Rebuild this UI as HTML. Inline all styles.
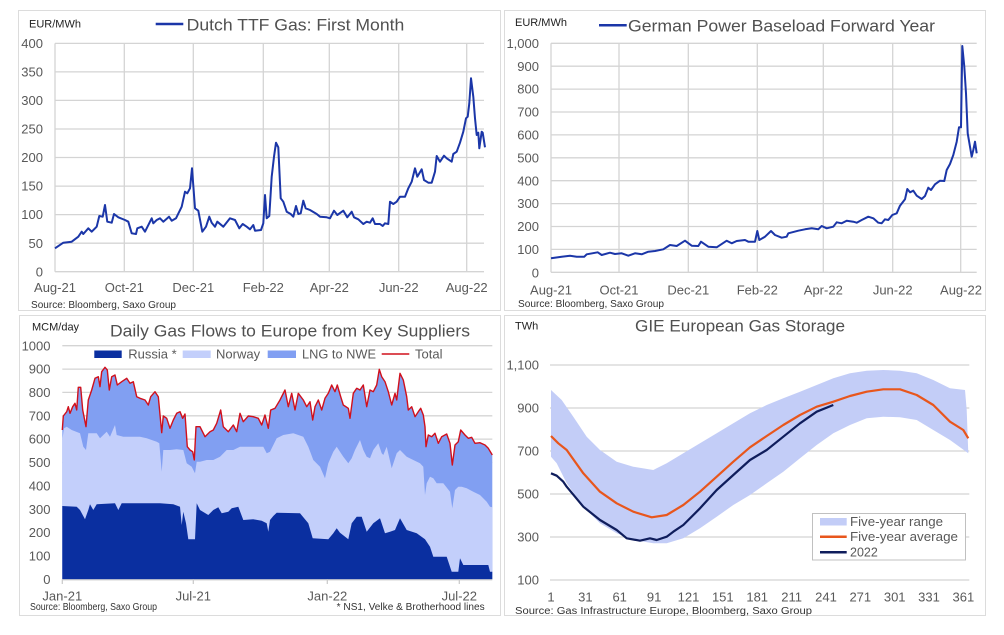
<!DOCTYPE html>
<html><head><meta charset="utf-8"><style>
html,body{margin:0;padding:0;background:#fff;}
svg{display:block;}
text{font-family:"Liberation Sans",sans-serif;}
.tk{font-size:13px;fill:#595959;}
.un{font-size:11px;fill:#222;}
.src{font-size:10px;fill:#333;}
.ttl{font-size:17px;fill:#505050;}
.lg{font-size:13px;fill:#595959;}
.g{stroke:#d4d4d4;stroke-width:1.3;fill:none;}
</style></head><body>
<svg width="1004" height="635" viewBox="0 0 1004 635" xmlns="http://www.w3.org/2000/svg">
<rect width="1004" height="635" fill="#fff"/>
<!-- panel frames -->
<rect x="18.5" y="10.5" width="482" height="300" fill="#fff" stroke="#dcdcdc"/>
<rect x="504.5" y="10.5" width="481" height="300" fill="#fff" stroke="#dcdcdc"/>
<rect x="19.5" y="315.5" width="481" height="300" fill="#fff" stroke="#dcdcdc"/>
<rect x="504.5" y="315.5" width="481" height="300" fill="#fff" stroke="#dcdcdc"/>

<!-- ============ PANEL 1 ============ -->
<g class="g">
<line x1="55" y1="43.4" x2="484" y2="43.4"/><line x1="55" y1="71.9" x2="484" y2="71.9"/>
<line x1="55" y1="100.4" x2="484" y2="100.4"/><line x1="55" y1="129" x2="484" y2="129"/>
<line x1="55" y1="157.5" x2="484" y2="157.5"/><line x1="55" y1="186.1" x2="484" y2="186.1"/>
<line x1="55" y1="214.6" x2="484" y2="214.6"/><line x1="55" y1="243.2" x2="484" y2="243.2"/>
<line x1="55" y1="271.7" x2="484" y2="271.7"/>
<line x1="55" y1="43.4" x2="55" y2="271.7"/><line x1="124.3" y1="43.4" x2="124.3" y2="271.7"/>
<line x1="193.3" y1="43.4" x2="193.3" y2="271.7"/><line x1="263.3" y1="43.4" x2="263.3" y2="271.7"/>
<line x1="329.3" y1="43.4" x2="329.3" y2="271.7"/><line x1="398.7" y1="43.4" x2="398.7" y2="271.7"/>
<line x1="466.7" y1="43.4" x2="466.7" y2="271.7"/>
</g>
<g class="tk" text-anchor="end">
<text x="43" y="48">400</text><text x="43" y="76.5">350</text><text x="43" y="105">300</text>
<text x="43" y="133.6">250</text><text x="43" y="162.1">200</text><text x="43" y="190.7">150</text>
<text x="43" y="219.2">100</text><text x="43" y="247.8">50</text><text x="43" y="276.3">0</text>
</g>
<g class="tk" text-anchor="middle">
<text x="55" y="292">Aug-21</text><text x="124.3" y="292">Oct-21</text><text x="193.3" y="292">Dec-21</text>
<text x="263.3" y="292">Feb-22</text><text x="329.3" y="292">Apr-22</text><text x="398.7" y="292">Jun-22</text>
<text x="466.7" y="292">Aug-22</text>
</g>
<polyline fill="none" stroke="#1b36a8" stroke-width="2" stroke-linejoin="round" points="55,248.3 63.3,242.7 71.7,241.7 78.3,236.7 81.7,231.7 83.3,234 88.3,228.3 91.7,231.7 96.7,226.7 99.3,216 102.7,216.7 105,205 107.3,221.7 111.7,222.7 114,214 118.3,217.3 125,220 128.3,221.7 131.7,233.3 136,234 137.3,228.3 141.7,226.7 145,231.7 151.7,218.3 153.3,223.3 156.7,220 160,218.3 163.3,221.7 169,216.7 171.7,220.7 176,218.3 181.7,206.7 185,191.7 187.3,193.3 190,188.3 192,168.3 195,208.3 198.3,210.7 202.3,231.7 206,226.7 209.3,216.7 211.7,222.7 215,226.7 217.3,221.7 223.3,226.7 230,218.3 235,220 239.3,228.3 242.7,224 246.7,226.7 250,229.3 253.3,225 255,230.7 261,230 263.3,223.3 265,195 266.7,218.3 269.3,216 271.7,176.7 274,156.7 276,142.7 278.3,147.3 280.7,198.3 283.3,201.7 286.7,211.7 290.7,214 293.3,216.7 296,206 298.3,214 300.7,213.3 303.3,200.7 305.7,208.3 310,210 316.7,214 320,216.7 326.7,217.3 330,218.3 334,210.7 337.3,215 343.3,210.7 347.3,217.3 351.7,211.7 354,217.3 358.3,219.3 363.3,224 366.7,221.7 370,222.7 372.7,218.3 375,224 380,224 382.7,226 385,223.3 388.3,224 390,201.7 393.3,204 396.7,201.7 400,196.7 405,196.7 408.3,188.3 411.7,181.7 415,168.3 417.3,176.7 421.7,169.3 424,180 428.3,182.7 431.7,182.7 435,171.7 436.7,156 440,161.7 444,155.7 446.7,158.3 451.7,161.7 453.3,154 456.7,151.7 460,142.7 463.3,131.7 466,118.3 467.7,116.7 469.3,103.3 471,78.3 473.3,96.7 475,118.3 476.7,135 478.3,132.7 479.3,148.3 481.7,131.7 482.7,132.7 485,147.3"/>
<text class="un" x="29" y="27.3">EUR/MWh</text>
<line x1="155.7" y1="24" x2="183.3" y2="24" stroke="#1b36a8" stroke-width="2.5"/>
<text class="ttl" x="186.7" y="30.5" textLength="217.6" lengthAdjust="spacingAndGlyphs">Dutch TTF Gas: First Month</text>
<text class="src" x="31" y="307.8" textLength="145" lengthAdjust="spacingAndGlyphs">Source: Bloomberg, Saxo Group</text>

<!-- ============ PANEL 2 ============ -->
<g class="g">
<line x1="551" y1="43.3" x2="976.7" y2="43.3"/><line x1="551" y1="66.2" x2="976.7" y2="66.2"/>
<line x1="551" y1="89.1" x2="976.7" y2="89.1"/><line x1="551" y1="112" x2="976.7" y2="112"/>
<line x1="551" y1="134.9" x2="976.7" y2="134.9"/><line x1="551" y1="157.8" x2="976.7" y2="157.8"/>
<line x1="551" y1="180.7" x2="976.7" y2="180.7"/><line x1="551" y1="203.6" x2="976.7" y2="203.6"/>
<line x1="551" y1="226.5" x2="976.7" y2="226.5"/><line x1="551" y1="249.4" x2="976.7" y2="249.4"/>
<line x1="551" y1="272.3" x2="976.7" y2="272.3"/>
<line x1="551" y1="43.3" x2="551" y2="272.3"/><line x1="619" y1="43.3" x2="619" y2="272.3"/>
<line x1="688.3" y1="43.3" x2="688.3" y2="272.3"/><line x1="757.3" y1="43.3" x2="757.3" y2="272.3"/>
<line x1="823.3" y1="43.3" x2="823.3" y2="272.3"/><line x1="892.7" y1="43.3" x2="892.7" y2="272.3"/>
<line x1="960.7" y1="43.3" x2="960.7" y2="272.3"/>
</g>
<g class="tk" text-anchor="end">
<text x="539" y="47.9">1,000</text><text x="539" y="70.8">900</text><text x="539" y="93.7">800</text>
<text x="539" y="116.6">700</text><text x="539" y="139.5">600</text><text x="539" y="162.4">500</text>
<text x="539" y="185.3">400</text><text x="539" y="208.2">300</text><text x="539" y="231.1">200</text>
<text x="539" y="254">100</text><text x="539" y="277.5">0</text>
</g>
<g class="tk" text-anchor="middle">
<text x="551" y="294.7">Aug-21</text><text x="619" y="294.7">Oct-21</text><text x="688.3" y="294.7">Dec-21</text>
<text x="757.3" y="294.7">Feb-22</text><text x="823.3" y="294.7">Apr-22</text><text x="892.7" y="294.7">Jun-22</text>
<text x="961" y="294.7">Aug-22</text>
</g>
<polyline fill="none" stroke="#1b36a8" stroke-width="2" stroke-linejoin="round" points="551,258.3 561.7,256.7 570,255.7 576.7,256.7 584.3,256.7 586.7,254.3 597.7,252.3 601.7,255 610,252.7 615,254 621.7,253.3 628.3,255.7 635,253.3 641.7,254.3 648.3,251.7 655,251 663.3,249.3 670,245 676.7,246 685,240.7 691.7,245.7 698.3,246 701,241.7 708.3,246.7 716.7,247.3 726.7,240.7 731.7,243.3 736.7,241 745,240 748.3,241.7 755,241.7 757.3,231 759.3,240 765,236.7 771,231 775,235 781.7,237.7 786.7,236.7 788.3,233.3 798.3,230.7 805,229.3 811.7,228.3 818.3,229.3 821.7,226 826.7,228.3 833.3,226.7 836.7,222.3 841.7,223.3 846.7,220.7 853.3,221.7 856.7,222.7 861.7,220 868.3,216.7 873.3,218.3 878.3,222.7 881.7,223.3 885,219.3 888.3,220 892.3,215 896.7,213.3 900,205.7 905,199.3 907.3,189 910,192.3 913.3,190.7 916.7,195.7 921.7,199 925,196 928.3,187.7 931,190 935,184.3 940,180.7 944.3,181 946.7,170 950,164 953.3,155 956.7,141.7 959,127.3 961,127.3 962.3,46 964.3,66.7 966,93.3 967.7,133.3 970,146.7 971.7,156.7 973.3,150 975,141.7 976.7,153.3"/>
<text class="un" x="515" y="26">EUR/MWh</text>
<line x1="599" y1="25.3" x2="626.7" y2="25.3" stroke="#1b36a8" stroke-width="2.5"/>
<text class="ttl" x="628" y="31.5" textLength="307" lengthAdjust="spacingAndGlyphs">German Power Baseload Forward Year</text>
<text class="src" x="518" y="307.2" textLength="146" lengthAdjust="spacingAndGlyphs">Source: Bloomberg, Saxo Group</text>

<!-- ============ PANEL 3 ============ -->
<g class="g">
<line x1="62.3" y1="345.7" x2="492.3" y2="345.7"/><line x1="62.3" y1="369.1" x2="492.3" y2="369.1"/>
<line x1="62.3" y1="392.4" x2="492.3" y2="392.4"/><line x1="62.3" y1="415.8" x2="492.3" y2="415.8"/>
<line x1="62.3" y1="439.1" x2="492.3" y2="439.1"/><line x1="62.3" y1="462.5" x2="492.3" y2="462.5"/>
</g>
<path fill="#819ff2" d="M62.3,579.3 L62.3,430 63.3,416 66.7,411.7 68.3,406.7 70,413.3 72.7,406.7 75,403.3 76.7,410 78.3,387.3 80.7,387.3 82.7,410 86,426.7 88.3,400 91.7,390 95,378.3 98.3,376.7 100,386.7 101.7,371.7 105,367.3 107.3,370 109.3,390 111.7,376.7 115,375 117.3,385 121.7,381.7 126.7,378.3 130,383.3 133.3,381.7 136.7,396.7 140,398.3 145,400 148.3,405 150.7,396.7 155,391.7 158.3,396.7 161.7,432.7 163.3,416 166.7,418.3 170,428.3 173.3,420 176.7,413.3 180,411.7 182.7,418.3 185,414 187.3,446.7 190,450 192.7,451.7 194.3,460 196,426.7 200,426.7 205,436.7 210,431.7 213.3,430 216.7,423.3 220.7,410 223.3,426.7 228.3,431.7 233.3,425 236.7,431.7 240,413.3 243.3,421.7 248.3,416 253.3,416.7 258.3,418.3 261.7,425 265,415 268.3,428.3 270.7,410 275,408.3 280,400 285,390 288.3,406.7 291.7,393.3 295,410 298.3,393.3 303.3,400 306.7,406.7 310,401.7 312.7,420 315,406.7 318.3,400 321.7,410 325,398.3 328.3,393.3 331.7,385 335,391.7 337.3,385 340.7,396.7 343.3,405 348.3,408.3 350,418.3 353.3,393.3 356.7,388.3 360,390 363.3,385 366.7,406.7 370,390 373.3,391.7 376.7,385 379.3,369.3 381.7,376.7 385,381.7 388.3,391.7 391.7,405 395,393.3 396.7,400 400,373.3 403.3,380 406.7,396.7 408.3,410 411.7,406.7 415,416.7 418.3,411.7 420.7,408.3 423.3,415 425,426.7 426,446.7 428.3,435 431.7,436.7 435,433.3 438.3,443.3 441.7,436.7 446.7,434 450,443.3 452.3,465 455,445 458.3,441.7 460.7,430 465,435 468.3,438.3 471.7,437.3 475,443.3 480,442.7 485,445 488.3,448.3 492.3,455 L492.3,579.3 Z"/>
<path fill="#c3cffb" d="M62.3,579.3 L62.3,440 64,428.3 66.7,426.7 71.7,430 80,433.3 83.3,446.7 86,450 88.3,433.3 96.7,433.3 100,438.3 103.3,435 106.7,431.7 110,436.7 115,425 116.7,435 123.3,436.7 131.7,436.7 140,436.7 146.7,438.3 156.7,441.7 159.3,443.3 161.7,471.7 163.3,450 170,450 176.7,449.3 183.3,450 186.7,463.3 191.7,466.7 195,473.3 196.7,461.7 200,461.7 206.7,460 213.3,460 220,456.7 226.7,450 233.3,450 240,446.7 246.7,446.7 253.3,446.7 263.3,446.7 266.7,453.3 270,451.7 276.7,438.3 283.3,435 293.3,433.3 303.3,436.7 308.3,446.7 313.3,460 320,466.7 325,478.3 328.3,463.3 333.3,451.7 336.7,446.7 343.3,456.7 348.3,463.3 351.7,458.3 355,450 360,440 363.3,450 366.7,456.7 370,458.3 373.3,450 378.3,443.3 381.7,453.3 383.3,455 386.7,446.7 391.7,468.3 396.7,453.3 400,450 406.7,456.7 413.3,460 420,463.3 423.3,466.7 425,495 426.7,483.3 430,476.7 433.3,478.3 436.7,483.3 443.3,483.3 450,491.7 452.3,508.3 455,490 458.3,486.7 461.7,486.7 466.7,488.3 473.3,491.7 480,495 486.7,501.7 490,506.7 492.3,507.3 L492.3,579.3 Z"/>
<path fill="#0a2fa0" d="M62.3,579.3 L62.3,506 76.7,506.7 80,510 85,519.3 88.3,510 90,504.3 93.3,510 96.7,504.3 115,503.3 118.3,510 121.7,503.3 160,503.3 173.3,504.3 180,506.7 181.7,525 183.3,511.7 186,523.3 188.3,539.3 195,539.3 196.7,503.3 200,510 208.3,515 213.3,510 218.3,507.3 221.7,513.3 228.3,511.7 231.7,508.3 238.3,506.7 243.3,520 253.3,519.3 261.7,520.7 266.7,523.3 268.3,531.7 270,520 273.3,516 276.7,512.7 300,513.3 308.3,523.3 312.7,538.3 328.3,539.3 333.3,533.3 336.7,528.3 340,532.7 348.3,539.3 351.7,523.3 356.7,516.7 361.7,516.7 366.7,531.7 373.3,523.3 380,518.3 385,533.3 390,531.7 395,530 400,518.3 406.7,530 416.7,533.3 425,539.3 430,546.7 433.3,556.7 446.7,556.7 451.7,571.7 458.3,571.7 460,558.3 463.3,565 488.3,565 490,571.7 492.3,571.7 L492.3,579.3 Z"/>
<polyline fill="none" stroke="#d0101c" stroke-width="1.4" stroke-linejoin="round" points="62.3,430 63.3,416 66.7,411.7 68.3,406.7 70,413.3 72.7,406.7 75,403.3 76.7,410 78.3,387.3 80.7,387.3 82.7,410 86,426.7 88.3,400 91.7,390 95,378.3 98.3,376.7 100,386.7 101.7,371.7 105,367.3 107.3,370 109.3,390 111.7,376.7 115,375 117.3,385 121.7,381.7 126.7,378.3 130,383.3 133.3,381.7 136.7,396.7 140,398.3 145,400 148.3,405 150.7,396.7 155,391.7 158.3,396.7 161.7,432.7 163.3,416 166.7,418.3 170,428.3 173.3,420 176.7,413.3 180,411.7 182.7,418.3 185,414 187.3,446.7 190,450 192.7,451.7 194.3,460 196,426.7 200,426.7 205,436.7 210,431.7 213.3,430 216.7,423.3 220.7,410 223.3,426.7 228.3,431.7 233.3,425 236.7,431.7 240,413.3 243.3,421.7 248.3,416 253.3,416.7 258.3,418.3 261.7,425 265,415 268.3,428.3 270.7,410 275,408.3 280,400 285,390 288.3,406.7 291.7,393.3 295,410 298.3,393.3 303.3,400 306.7,406.7 310,401.7 312.7,420 315,406.7 318.3,400 321.7,410 325,398.3 328.3,393.3 331.7,385 335,391.7 337.3,385 340.7,396.7 343.3,405 348.3,408.3 350,418.3 353.3,393.3 356.7,388.3 360,390 363.3,385 366.7,406.7 370,390 373.3,391.7 376.7,385 379.3,369.3 381.7,376.7 385,381.7 388.3,391.7 391.7,405 395,393.3 396.7,400 400,373.3 403.3,380 406.7,396.7 408.3,410 411.7,406.7 415,416.7 418.3,411.7 420.7,408.3 423.3,415 425,426.7 426,446.7 428.3,435 431.7,436.7 435,433.3 438.3,443.3 441.7,436.7 446.7,434 450,443.3 452.3,465 455,445 458.3,441.7 460.7,430 465,435 468.3,438.3 471.7,437.3 475,443.3 480,442.7 485,445 488.3,448.3 492.3,455"/>
<g stroke="#c8c8c8" stroke-width="1.2">
<line x1="62.3" y1="579.8" x2="492.3" y2="579.8"/>
<line x1="62.3" y1="579.3" x2="62.3" y2="584"/><line x1="193.3" y1="579.3" x2="193.3" y2="584"/>
<line x1="327.3" y1="579.3" x2="327.3" y2="584"/><line x1="459.3" y1="579.3" x2="459.3" y2="584"/>
</g>
<g class="tk" text-anchor="end">
<text x="50.5" y="350.3">1000</text><text x="50.5" y="373.7">900</text><text x="50.5" y="397">800</text>
<text x="50.5" y="420.4">700</text><text x="50.5" y="443.7">600</text><text x="50.5" y="467.1">500</text>
<text x="50.5" y="490.5">400</text><text x="50.5" y="513.8">300</text><text x="50.5" y="537.2">200</text>
<text x="50.5" y="560.5">100</text><text x="50.5" y="583.9">0</text>
</g>
<g class="tk" text-anchor="middle">
<text x="62.3" y="600.6">Jan-21</text><text x="193.3" y="600.6">Jul-21</text>
<text x="327.3" y="600.6">Jan-22</text><text x="459.3" y="600.6">Jul-22</text>
</g>
<text class="un" x="32" y="330.7">MCM/day</text>
<text class="ttl" x="110" y="336.5" textLength="360" lengthAdjust="spacingAndGlyphs">Daily Gas Flows to Europe from Key Suppliers</text>
<rect x="94.3" y="350.5" width="27.4" height="7.5" fill="#0a2fa0"/>
<text class="lg" x="128.3" y="358.6">Russia *</text>
<rect x="182.7" y="350.5" width="28" height="7.5" fill="#c3cffb"/>
<text class="lg" x="216" y="358.6">Norway</text>
<rect x="267.7" y="350.5" width="28.3" height="7.5" fill="#819ff2"/>
<text class="lg" x="302" y="358.6" textLength="74" lengthAdjust="spacingAndGlyphs">LNG to NWE</text>
<line x1="381.7" y1="354" x2="409.3" y2="354" stroke="#d0101c" stroke-width="1.5"/>
<text class="lg" x="415" y="358.6">Total</text>
<text class="src" x="30" y="610.2" textLength="127" lengthAdjust="spacingAndGlyphs">Source:  Bloomberg,  Saxo Group</text>
<text class="src" x="336.7" y="610.2" textLength="148" lengthAdjust="spacingAndGlyphs">* NS1, Velke &amp; Brotherhood  lines</text>

<!-- ============ PANEL 4 ============ -->
<g class="g">
<line x1="550" y1="365" x2="969.3" y2="365"/><line x1="550" y1="408" x2="969.3" y2="408"/>
<line x1="550" y1="451" x2="969.3" y2="451"/><line x1="550" y1="494" x2="969.3" y2="494"/>
<line x1="550" y1="537" x2="969.3" y2="537"/><line x1="550" y1="580" x2="969.3" y2="580"/>
</g>
<path fill="#c3cdf7" d="M551,390 L561.7,400 573.3,416.7 586.7,436.7 600,450 616.7,461.7 633.3,466.7 653.3,470 656.7,468.3 666.7,463.3 683.3,453.3 700,443.3 716.7,433.3 733.3,423.3 750,413.3 766.7,405 783.3,398.3 800,391.7 816.7,385 833.3,378.3 850,373.3 866.7,370.7 883.3,370 900,370.7 916.7,373.3 933.3,380 950,388.3 965,390 966.7,410 968.3,453.3 L950,440 933.3,430 916.7,420 900,417.3 883.3,416.7 866.7,418.3 850,425 833.3,433.3 816.7,445 800,458.3 783.3,471.7 766.7,483.3 750,495 733.3,505 716.7,516.7 700,528.3 683.3,538.3 666.7,543.3 653.3,543.3 633.3,540 616.7,533.3 600,523.3 583.3,506.7 566.7,483.3 556.7,463.3 551,456.7 Z"/>
<polyline fill="none" stroke="#e8561c" stroke-width="2.2" stroke-linejoin="round" points="551,436 558.3,443.3 566.7,450 583.3,473.3 600,491.7 616.7,503.3 633.3,511.7 651.7,517.3 666.7,515 683.3,505 700,491.7 716.7,476.7 733.3,461.7 750,447.3 766.7,436 783.3,425 800,415 816.7,406.7 833.3,401.7 850,396 866.7,391.7 883.3,389.3 900,389.3 916.7,395 933.3,405 950,421.7 963.3,430 968.3,438.3"/>
<polyline fill="none" stroke="#0f1d5c" stroke-width="2.2" stroke-linejoin="round" points="551,473.3 556.7,475.7 563.3,481.7 566.7,486.7 583.3,506.7 600,520 616.7,530 626.7,538.3 640,540.7 650,538.3 656.7,540 666.7,536.7 673.3,531.7 683.3,525 700,508.3 716.7,490 733.3,475 750,460 766.7,450 783.3,436.7 800,423.3 816.7,411.7 833.3,405"/>
<g class="tk" text-anchor="end">
<text x="539" y="369.6">1,100</text><text x="539" y="412.6">900</text><text x="539" y="455.6">700</text>
<text x="539" y="498.6">500</text><text x="539" y="541.6">300</text><text x="539" y="584.6">100</text>
</g>
<g class="tk" text-anchor="middle">
<text x="551" y="601.3">1</text><text x="585.4" y="601.3">31</text><text x="619.7" y="601.3">61</text>
<text x="654.1" y="601.3">91</text><text x="688.5" y="601.3">121</text><text x="722.8" y="601.3">151</text>
<text x="757.2" y="601.3">181</text><text x="791.6" y="601.3">211</text><text x="826" y="601.3">241</text>
<text x="860.3" y="601.3">271</text><text x="894.7" y="601.3">301</text><text x="929" y="601.3">331</text>
<text x="963.4" y="601.3">361</text>
</g>
<text class="un" x="515" y="329.7">TWh</text>
<text class="ttl" x="635" y="331.5" textLength="210" lengthAdjust="spacingAndGlyphs">GIE European Gas Storage</text>
<rect x="812.5" y="513.5" width="153" height="46.5" fill="#fff" stroke="#c0c0c0"/>
<rect x="820" y="518" width="26.7" height="7.5" fill="#c3cdf7"/>
<text class="lg" x="850" y="526" style="font-size:12.5px" textLength="93" lengthAdjust="spacingAndGlyphs">Five-year range</text>
<line x1="820" y1="536.7" x2="846.7" y2="536.7" stroke="#e8561c" stroke-width="2.5"/>
<text class="lg" x="850" y="541" style="font-size:12.5px" textLength="108" lengthAdjust="spacingAndGlyphs">Five-year average</text>
<line x1="820" y1="552.3" x2="846.7" y2="552.3" stroke="#0f1d5c" stroke-width="2.5"/>
<text class="lg" x="850" y="556.6" style="font-size:12.5px">2022</text>
<text class="src" x="515" y="614.2" textLength="297" lengthAdjust="spacingAndGlyphs">Source: Gas Infrastructure Europe, Bloomberg, Saxo Group</text>
</svg>
</body></html>
